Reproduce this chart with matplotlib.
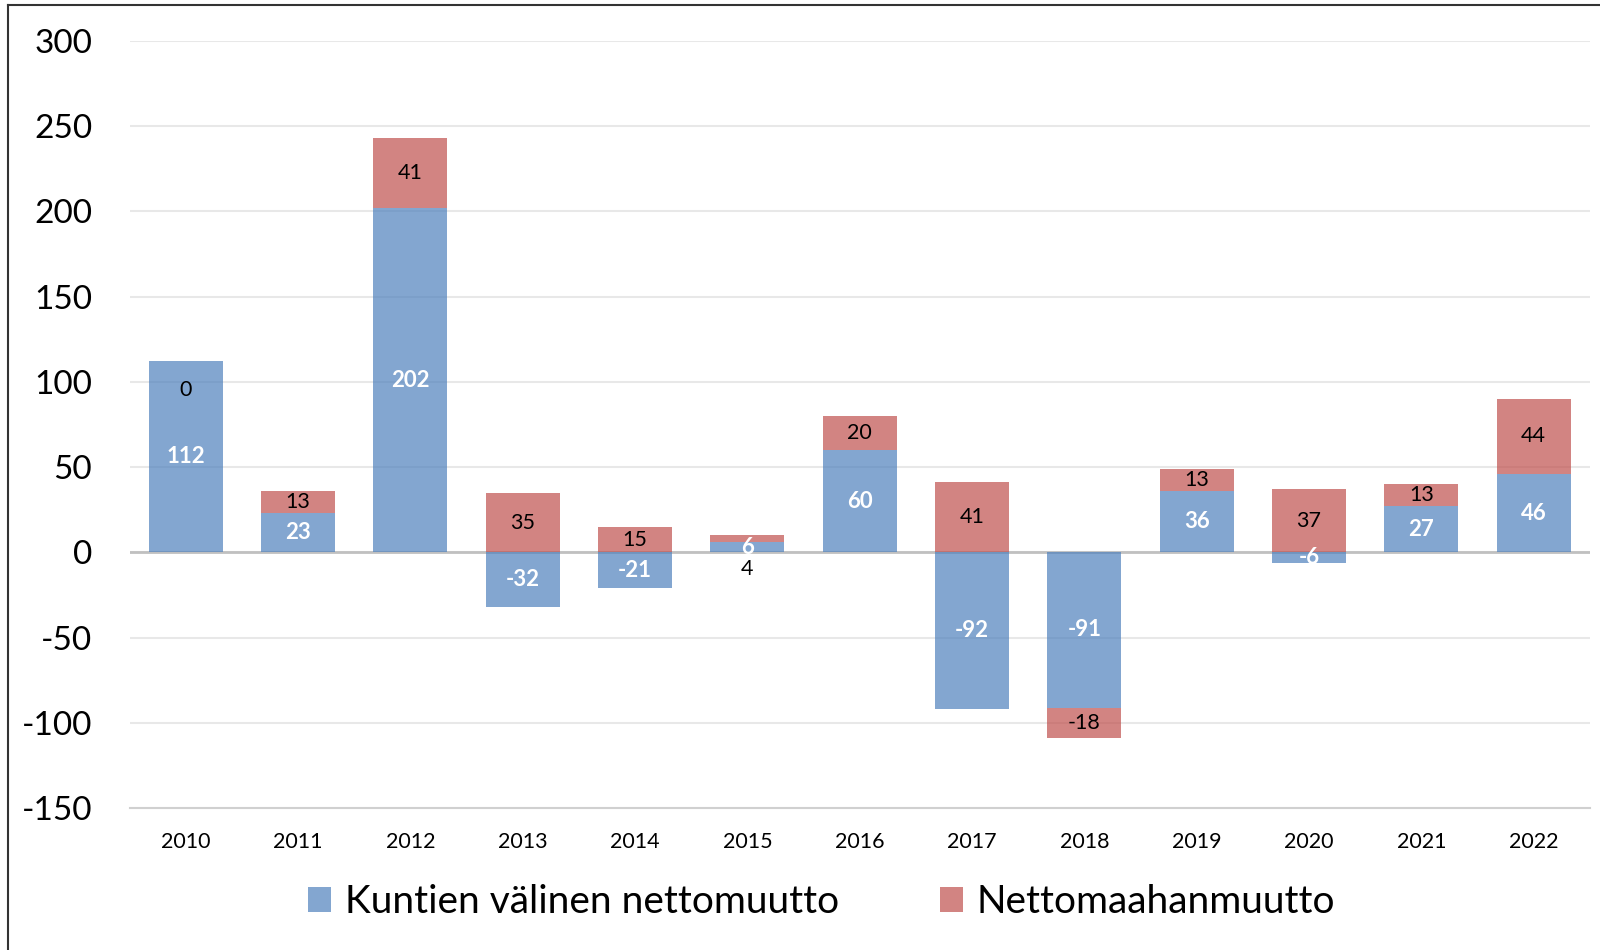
#!/usr/bin/env python3

import numpy as np
import matplotlib
matplotlib.use('Agg')
import matplotlib.pyplot as plt
from matplotlib.lines import Line2D

# Data
years = ['2010', '2011', '2012', '2013', '2014', '2015', '2016',
         '2017', '2018', '2019', '2020', '2021', '2022']
kuntien = [112, 23, 202, -32, -21, 6, 60, -92, -91, 36, -6, 27, 46]
maahanmuutto = [0, 13, 41, 35, 15, 4, 20, 41, -18, 13, 37, 13, 44]
series_names = ['Kuntien välinen nettomuutto', 'Nettomaahanmuutto']
y_ticks = [-150, -100, -50, 0, 50, 100, 150, 200, 250, 300]

plt.rcParams['font.family'] = ['Lato', 'DejaVu Sans']
plt.rcParams['axes.unicode_minus'] = False

blue = '#4F81BD'
red = '#C0504D'
alpha = 0.7

# layout measured on a 1568x931 view of the reference
W, H = 1568, 931
fig = plt.figure(figsize=(16, 9.5), dpi=100)
ax = fig.add_axes([127 / W, 1 - 792 / H, (1558 - 127) / W, (792 - 40) / H])

x = np.arange(len(years))
k = np.array(kuntien)
m = np.array(maahanmuutto)

# Excel-like stacking: positives on positives, negatives on negatives
m_base = np.where((m >= 0) == (k >= 0), k, 0)

width = 0.66
ax.bar(x, k, width, color=blue, alpha=alpha, label=series_names[0], zorder=2)
ax.bar(x, m, width, bottom=m_base, color=red, alpha=alpha, label=series_names[1], zorder=2)

# Data labels
for i in range(len(years)):
    ax.text(x[i], k[i] / 2, str(k[i]), ha='center', va='center',
            color='white', fontsize=16, fontweight='bold', zorder=3)
    y_lab = m_base[i] + m[i] / 2
    if m[i] == 0:
        # empty segment: label sits just inside the blue bar
        y_lab = m_base[i] - 17
    elif abs(m[i]) < 8:
        # too thin to hold its label: put it under the axis line
        y_lab = -10
    ax.text(x[i], y_lab, str(m[i]), ha='center', va='center',
            color='black', fontsize=15.5, zorder=4)

ax.set_xlim(-0.5, len(years) - 0.5)
ax.set_ylim(-150, 300)
ax.set_yticks(y_ticks)
ax.set_xticks(x)
ax.set_xticklabels(years, fontsize=15.5)
ax.tick_params(axis='y', labelsize=24, length=0, pad=27)
ax.tick_params(axis='x', length=0, pad=17)

ax.grid(True, axis='y', color='#E8E8E8', linewidth=1.5, zorder=0)
ax.set_axisbelow(True)
ax.axhline(0, color='#C0C0C0', linewidth=2, zorder=1)
for side in ['top', 'right', 'left']:
    ax.spines[side].set_visible(False)
ax.spines['bottom'].set_color('#D0D0D0')
ax.spines['bottom'].set_linewidth(1.5)

fig.legend(loc='center', bbox_to_anchor=(805 / W, 1 - 884 / H), ncol=2,
           frameon=False, fontsize=28, handlelength=0.6, handleheight=0.6,
           handletextpad=0.35, columnspacing=2.6)

# Outer frame (left and top edges only visible)
fig.add_artist(Line2D([8 / W, 8 / W], [0, 1 - 5 / H], color='#333333', linewidth=1.5))
fig.add_artist(Line2D([8 / W, 1], [1 - 5 / H, 1 - 5 / H], color='#333333', linewidth=1.5))

plt.savefig('out.png', dpi=100)
plt.close()
